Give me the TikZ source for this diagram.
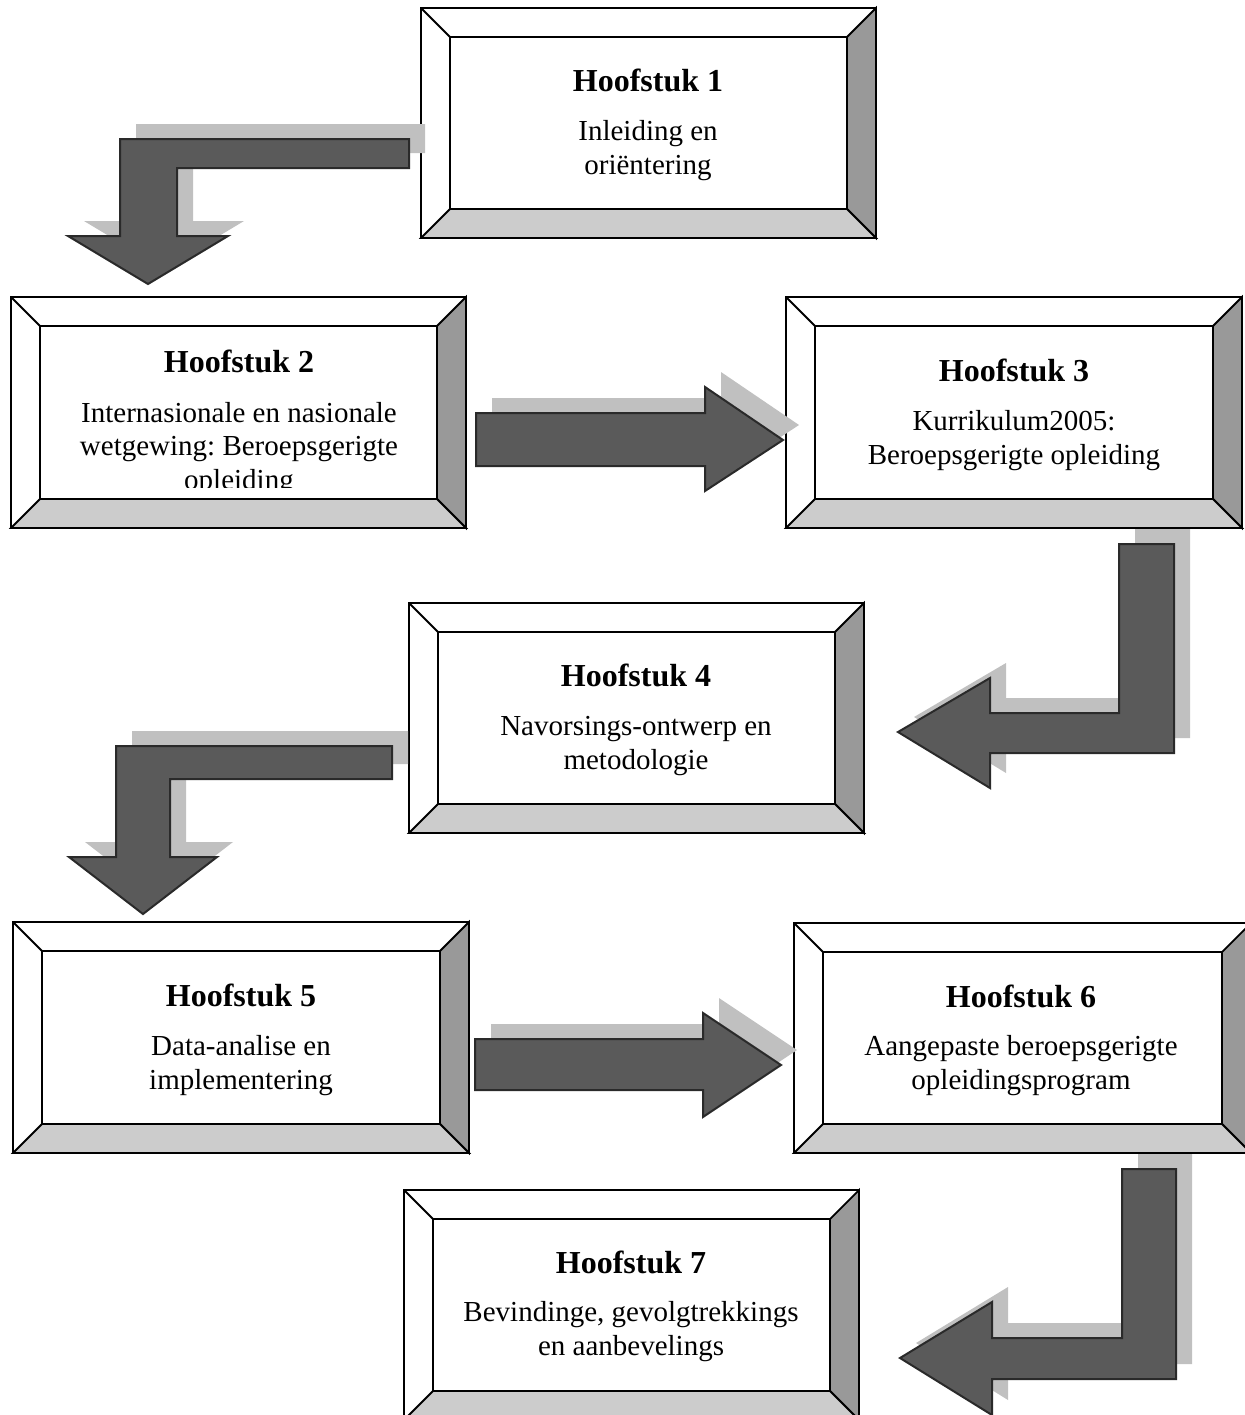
\documentclass[tikz,border=0pt]{standalone}
\usepackage{fontspec}
\setmainfont{Liberation Serif}
\frenchspacing
\definecolor{bevR}{HTML}{999999}
\definecolor{bevB}{HTML}{CCCCCC}
\definecolor{shad}{HTML}{C0C0C0}
\definecolor{arrfill}{HTML}{5A5A5A}
\definecolor{arrline}{HTML}{2A2A2A}
\tikzset{
  boxline/.style={draw=black,line width=0.9pt,line join=miter},
  arrowbody/.style={fill=arrfill,draw=arrline,line width=1pt,line join=miter},
  arrowshadow/.style={fill=shad,draw=none},
  titletext/.style={anchor=base,inner sep=0pt,font=\fontsize{16}{19}\selectfont\bfseries},
  bodytext/.style={anchor=base,inner sep=0pt,font=\fontsize{14.5}{17}\selectfont},
}
% #1 name, #2 x1, #3 y1, #4 x2, #5 y2 (outer corners), bevel 29
\newcommand\bevelbox[5]{%
  \node[draw=none,inner sep=0pt,minimum width={(#4-#2)*0.5pt},minimum height={(#5-#3)*0.5pt}] (#1) at ({(#2+#4)/2},{(#3+#5)/2}) {};
  \fill[white,boxline] (#2,#3) rectangle (#4,#5);
  \filldraw[fill=bevR,boxline] (#4,#3) -- (#4,#5) -- ({#4-29},{#5-29}) -- ({#4-29},{#3+29}) -- cycle;
  \filldraw[fill=bevB,boxline] (#2,#5) -- (#4,#5) -- ({#4-29},{#5-29}) -- ({#2+29},{#5-29}) -- cycle;
  \draw[boxline] ({#2+29},{#3+29}) rectangle ({#4-29},{#5-29});
  \draw[boxline] (#2,#3) -- ({#2+29},{#3+29});
  \draw[boxline] (#2,#3) rectangle (#4,#5);
}
\begin{document}
\begin{tikzpicture}[x=0.5pt,y=-0.5pt]
\useasboundingbox (0,0) rectangle (1245,1415);
\clip (0,0) rectangle (1245,1415);

% boxes
\bevelbox{b1}{421}{8}{876}{238}
\bevelbox{b2}{11}{297}{466}{528}
\bevelbox{b3}{786}{297}{1242}{528}
\bevelbox{b4}{409}{603}{864}{833}
\bevelbox{b5}{13}{922}{469}{1153}
\bevelbox{b6}{794}{923}{1251}{1153}
\bevelbox{b7}{404}{1190}{859}{1420}

% texts
\node[titletext] (t1) at (648,91) {Hoofstuk 1};
\node[bodytext] (t1a) at (648,140) {Inleiding en};
\node[bodytext] (t1b) at (648,174) {oriëntering};

\node[titletext] (t2) at (239,372) {Hoofstuk 2};
\node[bodytext] (t2a) at (239,422) {Internasionale en nasionale};
\node[bodytext] (t2b) at (239,455) {wetgewing: Beroepsgerigte};
\begin{scope}
\clip (0,0) rectangle (1245,487);
\node[bodytext] (t2c) at (239,489) {opleiding};
\end{scope}

\node[titletext] (t3) at (1014,381) {Hoofstuk 3};
\node[bodytext] (t3a) at (1014,430) {Kurrikulum2005:};
\node[bodytext] (t3b) at (1014,464) {Beroepsgerigte opleiding};

\node[titletext] (t4) at (636,686) {Hoofstuk 4};
\node[bodytext] (t4a) at (636,735) {Navorsings-ontwerp en};
\node[bodytext] (t4b) at (636,769) {metodologie};

\node[titletext] (t5) at (241,1006) {Hoofstuk 5};
\node[bodytext] (t5a) at (241,1055) {Data-analise en};
\node[bodytext] (t5b) at (241,1089) {implementering};

\node[titletext] (t6) at (1021,1007) {Hoofstuk 6};
\node[bodytext] (t6a) at (1021,1055) {Aangepaste beroepsgerigte};
\node[bodytext] (t6b) at (1021,1089) {opleidingsprogram};

\node[titletext] (t7) at (631,1273) {Hoofstuk 7};
\node[bodytext] (t7a) at (631,1321) {Bevindinge, gevolgtrekkings};
\node[bodytext] (t7b) at (631,1355) {en aanbevelings};

% arrow 1 -> 2 (bent, pointing down)
\def\arrA{(409,139) -- (120,139) -- (120,236) -- (68,236) -- (148,284) -- (228,236) -- (177,236) -- (177,168) -- (409,168) -- cycle}
\fill[arrowshadow,shift={(16,-15)}] \arrA;
\draw[arrowbody] \arrA;

% arrow 2 -> 3 (right)
\def\arrB{(476,413) -- (705,413) -- (705,387) -- (783,440) -- (705,491) -- (705,466) -- (476,466) -- cycle}
\fill[arrowshadow,shift={(16,-15)}] \arrB;
\draw[arrowbody] \arrB;

% arrow 3 -> 4 (bent, pointing left)
\def\arrC{(1119,544) -- (1174,544) -- (1174,753) -- (990,753) -- (990,788) -- (898,732) -- (990,678) -- (990,713) -- (1119,713) -- cycle}
\fill[arrowshadow,shift={(16,-15)}] \arrC;
\draw[arrowbody] \arrC;

% arrow 4 -> 5 (bent, pointing down)
\def\arrD{(392,746) -- (116,746) -- (116,857) -- (69,857) -- (143,914) -- (217,857) -- (170,857) -- (170,779) -- (392,779) -- cycle}
\fill[arrowshadow,shift={(16,-15)}] \arrD;
\draw[arrowbody] \arrD;

% arrow 5 -> 6 (right)
\def\arrE{(475,1039) -- (703,1039) -- (703,1013) -- (781,1065) -- (703,1117) -- (703,1090) -- (475,1090) -- cycle}
\fill[arrowshadow,shift={(16,-15)}] \arrE;
\draw[arrowbody] \arrE;

% arrow 6 -> 7 (bent, pointing left)
\def\arrF{(1122,1169) -- (1176,1169) -- (1176,1379) -- (992,1379) -- (992,1415) -- (900,1358) -- (992,1302) -- (992,1338) -- (1122,1338) -- cycle}
\fill[arrowshadow,shift={(16,-15)}] \arrF;
\draw[arrowbody] \arrF;
\end{tikzpicture}
\end{document}
